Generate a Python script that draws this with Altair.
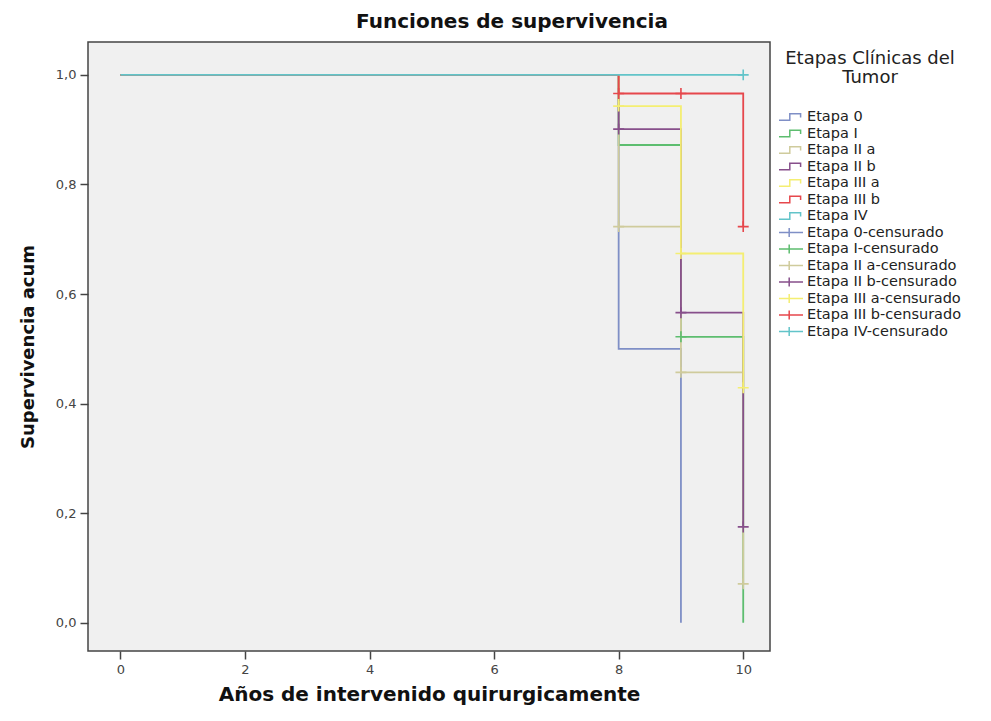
import altair as alt
import pandas as pd

# ---- data ----
stages = ["Etapa 0", "Etapa I", "Etapa II a", "Etapa II b", "Etapa III a", "Etapa III b", "Etapa IV"]
colors = ["#7f8fc6", "#5dbd6f", "#cfcb9c", "#874f8b", "#f4ee72", "#e6474c", "#62c4c9"]

# step curves: event times and cumulative survival after each time
t_0 = [0, 8, 9]
s_0 = [1.0, 0.50, 0.0]
t_I = [0, 8, 9, 10]
s_I = [1.0, 0.872, 0.522, 0.0]
t_IIa = [0, 8, 9, 10]
s_IIa = [1.0, 0.723, 0.457, 0.071]
t_IIb = [0, 8, 9, 10]
s_IIb = [1.0, 0.901, 0.566, 0.175]
t_IIIa = [0, 8, 9, 10]
s_IIIa = [1.0, 0.943, 0.674, 0.429]
t_IIIb = [0, 8, 10]
s_IIIb = [1.0, 0.966, 0.723]
t_IV = [0, 10]
s_IV = [1.0, 1.0]

# censored observations
ct_I = [9]
cs_I = [0.522]
ct_IIa = [8, 9, 10]
cs_IIa = [0.723, 0.457, 0.071]
ct_IIb = [8, 9, 10]
cs_IIb = [0.901, 0.566, 0.175]
ct_IIIa = [8, 9, 10]
cs_IIIa = [0.943, 0.674, 0.429]
ct_IIIb = [8, 9, 10]
cs_IIIb = [0.966, 0.966, 0.723]
ct_IV = [10]
cs_IV = [1.0]

x_ticks = [0, 2, 4, 6, 8, 10]
y_ticks = [0.0, 0.2, 0.4, 0.6, 0.8, 1.0]

# ---- tables ----
curve_sets = [(t_0, s_0), (t_I, s_I), (t_IIa, s_IIa), (t_IIb, s_IIb),
              (t_IIIa, s_IIIa), (t_IIIb, s_IIIb), (t_IV, s_IV)]
rows = []
for i, (ts, ss) in enumerate(curve_sets):
    for t, s in zip(ts, ss):
        rows.append({"leg": stages[i], "idx": i, "t": t, "s": s})
curves = pd.DataFrame(rows)

cens_sets = [(1, ct_I, cs_I), (2, ct_IIa, cs_IIa), (3, ct_IIb, cs_IIb),
             (4, ct_IIIa, cs_IIIa), (5, ct_IIIb, cs_IIIb), (6, ct_IV, cs_IV)]
crow = []
for i, ts, ss in cens_sets:
    for t, s in zip(ts, ss):
        crow.append({"leg": stages[i] + "-censurado", "idx": i, "t": t, "s": s})
cens = pd.DataFrame(crow)

legend_names = stages + [s + "-censurado" for s in stages]
legend_colors = colors + colors
step_path = "M-1,0.28H-0.1V-0.28H0.8V0.05"
cross_path = "M-1,0H1M-0.15,-0.38V0.38"
legend_shapes = [step_path] * 7 + [cross_path] * 7
dummy = pd.DataFrame({"leg": legend_names, "t": [-5] * 14, "s": [0.5] * 14})

xs = alt.Scale(domain=[-0.52, 10.43], nice=False, zero=False)
ys = alt.Scale(domain=[-0.0515, 1.06], nice=False, zero=False)
cs = alt.Scale(domain=legend_names, range=legend_colors)
ss_ = alt.Scale(domain=legend_names, range=legend_shapes)

leg = alt.Legend(
    title=["Etapas Clínicas del", "Tumor"], orient="none", legendX=690, legendY=8,
    titleFont="DejaVu Sans", titleFontSize=18, titleFontWeight="normal",
    titleColor="#222222", titleAlign="center", titleAnchor="middle",
    titleLineHeight=19, titlePadding=22,
    labelFont="DejaVu Sans", labelFontSize=14.5, labelColor="#222222",
    symbolSize=576, symbolStrokeWidth=1.5, symbolFillColor="transparent",
    clipHeight=16, rowPadding=0.5, labelOffset=3,
)

x_enc = alt.X("t:Q", scale=xs, axis=alt.Axis(
    values=x_ticks, format="d", title="Años de intervenido quirurgicamente", grid=False,
    domain=False, tickColor="#444444", tickSize=8, tickWidth=1.5, labelFont="DejaVu Sans",
    labelFontSize=13, labelColor="#444444", labelPadding=4,
    titleFont="DejaVu Sans", titleFontSize=20, titleFontWeight="bold",
    titleColor="#111111", titlePadding=8))
y_enc = alt.Y("s:Q", scale=ys, axis=alt.Axis(
    values=y_ticks, title="Supervivencia acum", grid=False, domain=False,
    labelExpr="replace(format(datum.value, '.1f'), '.', ',')",
    tickColor="#444444", tickSize=8, tickWidth=1.5, labelFont="DejaVu Sans",
    labelFontSize=13, labelColor="#444444", labelPadding=4,
    titleFont="DejaVu Sans", titleFontSize=18, titleFontWeight="bold",
    titleColor="#111111", titlePadding=18))

lines = alt.Chart(curves).mark_line(interpolate="step-after", strokeWidth=1.8).encode(
    x=x_enc, y=y_enc,
    color=alt.Color("leg:N", scale=cs, legend=leg),
    detail="idx:O",
    order="t:Q",
)

crosses = alt.Chart(cens).mark_point(filled=False, strokeWidth=1.6, opacity=1).encode(
    x="t:Q", y="s:Q",
    color=alt.Color("leg:N", scale=cs, legend=leg),
    shape=alt.value("M-1,0H1M0,-1V1"),
    size=alt.value(120),
)

dummy_pts = alt.Chart(dummy).mark_point(filled=False, clip=True, opacity=1).encode(
    x="t:Q", y="s:Q",
    color=alt.Color("leg:N", scale=cs, legend=leg),
    shape=alt.Shape("leg:N", scale=ss_, legend=leg),
)

chart = alt.layer(lines, crosses, dummy_pts).properties(
    width=682, height=609,
    autosize=alt.AutoSizeParams(type="none"),
    padding={"left": 80, "top": 34, "right": 213, "bottom": 62},
    background="white",
    title=alt.TitleParams("Funciones de supervivencia", font="DejaVu Sans", fontSize=20,
                          fontWeight="bold", color="#111111", anchor="middle", dx=83,
                          offset=10),
).configure_view(stroke="#444444", strokeWidth=1.5, fill="#f0f0f0")

chart.save("out.html", embed_options={"renderer": "svg", "actions": False})
